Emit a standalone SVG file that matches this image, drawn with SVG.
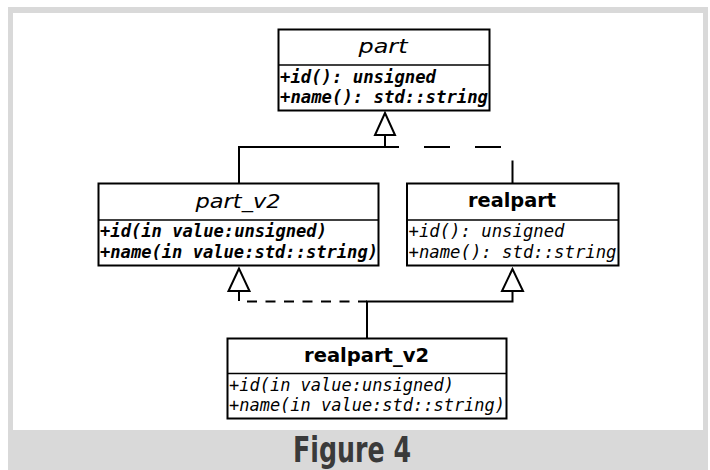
<svg xmlns="http://www.w3.org/2000/svg" width="710" height="470" viewBox="0 0 710 470">
  <style>
    .box { fill: #ffffff; stroke: #000000; stroke-width: 2; }
    .sep { stroke: #000000; stroke-width: 1.5; }
    .line { fill: none; stroke: #000000; stroke-width: 2; }
    .dash1 { stroke-dasharray: 26 25; }
    .dash2 { stroke-dasharray: 10 8.5; }
    .tri { fill: #ffffff; stroke: #000000; stroke-width: 2; stroke-linejoin: miter; }
    .title { font-family: "DejaVu Sans", "Liberation Sans", sans-serif; font-size: 19px; fill: #000000; text-anchor: middle; }
    .abstract { font-style: italic; font-size: 20px; }
    .concrete { font-weight: bold; }
    .member { font-family: "DejaVu Sans Mono", "Liberation Mono", monospace; font-size: 17px; font-style: italic; fill: #000000; }
    .strong { font-weight: bold; }
    .caption { font-family: "Liberation Sans Narrow", "DejaVu Sans Condensed", "Liberation Sans", sans-serif; font-weight: bold; font-size: 36px; fill: #3a3a3a; text-anchor: middle; }
  </style>

  <!-- frame -->
  <rect x="8" y="7" width="700" height="463" fill="#d9d9d9"/>
  <rect x="13" y="13" width="690" height="417" fill="#ffffff"/>

  <!-- connectors -->
  <g id="connectors">
    <!-- part_v2 generalizes part -->
    <path class="line" d="M239,183 V147 H385 V135"/>
    <!-- realpart realizes part -->
    <path class="line dash1" d="M385,135 V147 H512.5 V183"/>
    <polygon class="tri" points="385,113 375,135 395,135"/>
    <!-- realpart_v2 generalizes realpart -->
    <path class="line" d="M367,338 V301.5 H512.5 V291"/>
    <polygon class="tri" points="512.5,269 502,291 523,291"/>
    <!-- realpart_v2 realizes part_v2 -->
    <path class="line dash2" d="M239,291 V301.5 H367"/>
    <polygon class="tri" points="239,268.5 228.5,291 249.5,291"/>
  </g>

  <g id="part">
    <rect class="box" x="278.5" y="29.5" width="211" height="81"/>
    <line class="sep" x1="278.5" y1="65" x2="489.5" y2="65"/>
    <text class="title abstract" x="383" y="53" textLength="49" lengthAdjust="spacingAndGlyphs">part</text>
    <text class="member strong" x="280" y="83" textLength="156" lengthAdjust="spacingAndGlyphs">+id(): unsigned</text>
    <text class="member strong" x="280" y="103" textLength="208" lengthAdjust="spacingAndGlyphs">+name(): std::string</text>
  </g>

  <g id="part_v2">
    <rect class="box" x="98.5" y="183.5" width="280" height="82"/>
    <line class="sep" x1="98.5" y1="220" x2="378.5" y2="220"/>
    <text class="title abstract" x="238" y="208" textLength="85" lengthAdjust="spacingAndGlyphs">part_v2</text>
    <text class="member strong" x="100" y="237" textLength="227" lengthAdjust="spacingAndGlyphs">+id(in value:unsigned)</text>
    <text class="member strong" x="100" y="257.5" textLength="278" lengthAdjust="spacingAndGlyphs">+name(in value:std::string)</text>
  </g>

  <g id="realpart">
    <rect class="box" x="407" y="183.5" width="211.5" height="82"/>
    <line class="sep" x1="407" y1="220" x2="618.5" y2="220"/>
    <text class="title concrete" x="512" y="207" textLength="88" lengthAdjust="spacingAndGlyphs">realpart</text>
    <text class="member" x="408.5" y="237" textLength="156" lengthAdjust="spacingAndGlyphs">+id(): unsigned</text>
    <text class="member" x="408.5" y="257.5" textLength="208" lengthAdjust="spacingAndGlyphs">+name(): std::string</text>
  </g>

  <g id="realpart_v2">
    <rect class="box" x="227.5" y="338.5" width="279" height="80"/>
    <line class="sep" x1="227.5" y1="373.5" x2="506.5" y2="373.5"/>
    <text class="title concrete" x="366.5" y="362" textLength="125" lengthAdjust="spacingAndGlyphs">realpart_v2</text>
    <text class="member" x="229" y="390.5" textLength="225" lengthAdjust="spacingAndGlyphs">+id(in value:unsigned)</text>
    <text class="member" x="229" y="410.5" textLength="276" lengthAdjust="spacingAndGlyphs">+name(in value:std::string)</text>
  </g>

  <text class="caption" x="352" y="462" textLength="118" lengthAdjust="spacingAndGlyphs">Figure 4</text>
</svg>
